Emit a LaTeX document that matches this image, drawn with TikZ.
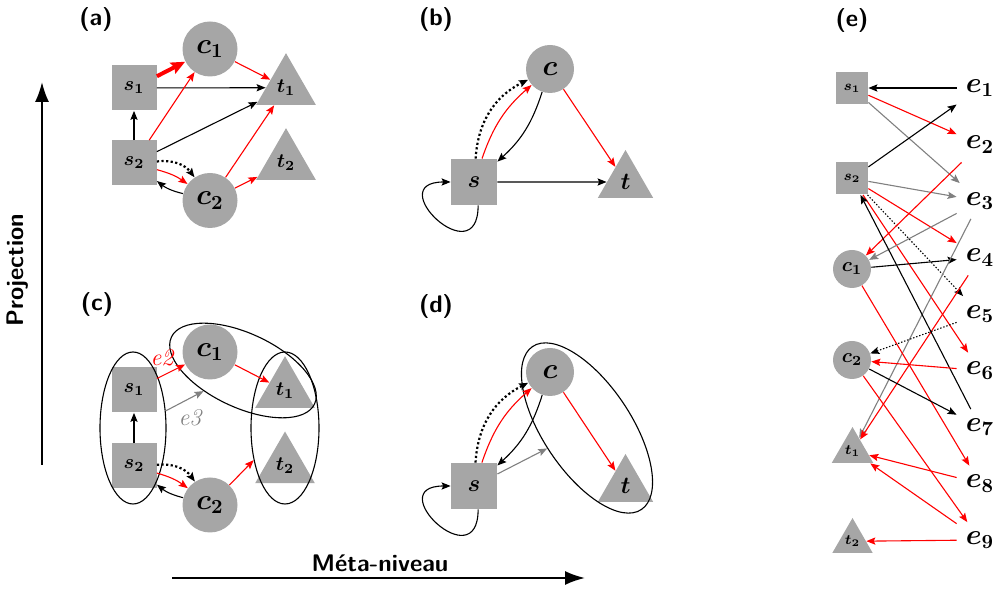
\documentclass[tikz,border=0pt]{standalone}
\usepackage{fontspec}
\usepackage{amsmath,bm}
\usetikzlibrary{arrows.meta,shapes.geometric}
\definecolor{nodegray}{RGB}{166,166,166}
\begin{document}
\begin{tikzpicture}[x=0.5pt,y=0.5pt,
  sq/.style={rectangle, fill=nodegray, inner sep=0pt, minimum size=22.5pt},
  ci/.style={circle, fill=nodegray, inner sep=0pt, minimum size=27.5pt, font=\Large},
  tri/.style={regular polygon, regular polygon sides=3, fill=nodegray, inner sep=0pt, minimum size=34.5pt},
  ell/.style={ellipse, draw, line width=0.55pt, inner sep=0pt},
  arr/.style={-{Stealth[length=4.5pt,width=3.6pt,inset=0.8pt]}, line width=0.55pt},
  rarr/.style={arr, red},
  garr/.style={arr, gray},
  darr/.style={arr, line width=1.1pt, dash pattern=on 1.1pt off 1.2pt},
  darre/.style={arr, dash pattern=on 0.7pt off 0.9pt},
  thickred/.style={-{Stealth[length=7pt,width=6pt,inset=1pt]}, red, line width=2pt},
  bigarr/.style={-{Latex[length=10pt,width=7pt]}, line width=1pt},
  plab/.style={font={\fontsize{12}{14}\selectfont\sffamily\bfseries}},
  axlab/.style={font={\fontsize{12}{14}\selectfont\sffamily\bfseries}},
  es/.style={rectangle, fill=nodegray, inner sep=0pt, minimum size=16pt, font=\scriptsize},
  ec/.style={circle, fill=nodegray, inner sep=0pt, minimum size=19pt, font=\normalsize},
  et/.style={tri, minimum size=24pt, font=\scriptsize},
  elab/.style={rectangle, inner sep=0pt, minimum width=23pt, minimum height=17.5pt, font=\Large}
]
\useasboundingbox (0,0) rectangle (995,593);

% axes
\coordinate (pb) at (42,128);
\coordinate (pt) at (42,511);
\draw[bigarr] (pb) -- (pt);
\node[axlab, rotate=90] (proj) at (18,323) {Projection};
\coordinate (ml) at (172,15);
\coordinate (mr) at (585,15);
\draw[bigarr] (ml) -- (mr);
\node[axlab] (meta) at (380,30) {Méta-niveau};

% panel labels
\node[plab] (la) at (96,573) {(a)};
\node[plab] (lb) at (436,573) {(b)};
\node[plab] (lc) at (97,288) {(c)};
\node[plab] (ld) at (436,286) {(d)};
\node[plab] (le) at (852,572) {(e)};

% ---------------- (a)
\node[sq] (a-s1) at (134,505) {$\bm{s_1}$};
\node[ci] (a-c1) at (210,544) {$\bm{c_1}$};
\node[tri] (a-t1) at (286,505.3) {$\bm{t_1}$};
\node[sq] (a-s2) at (134,430) {$\bm{s_2}$};
\node[tri] (a-t2) at (286,430.3) {$\bm{t_2}$};
\node[ci] (a-c2) at (210,392.5) {$\bm{c_2}$};
\draw[thickred] (a-s1) -- (a-c1);
\draw[arr] (a-s1) -- (a-t1);
\draw[arr] (a-s2) -- (a-s1);
\draw[rarr] (a-s2) -- (a-c1);
\draw[arr] (a-s2) -- (a-t1);
\draw[darr] (a-s2) to[bend left=30] (a-c2);
\draw[rarr] (a-s2) to[bend left=10] (a-c2);
\draw[arr] (a-c2) to[bend left=12] (a-s2);
\draw[rarr] (a-c1) -- (a-t1);
\draw[rarr] (a-c2) -- (a-t1);
\draw[rarr] (a-c2) -- (a-t2);

% ---------------- (b)
\node[ci, minimum size=24pt] (b-c) at (550,524) {$\bm{c}$};
\node[sq, minimum size=23pt, font=\large] (b-s) at (474,411) {$\bm{s}$};
\node[tri, minimum size=32pt, font=\large] (b-t) at (625.5,411) {$\bm{t}$};
\draw[arr] (b-s) -- (b-t);
\draw[rarr] (b-c) -- (b-t);
\draw[darr] (b-s) to[bend left=30] (b-c);
\draw[rarr] (b-s) to[bend left=15] (b-c);
\draw[arr] (b-c) to[bend left=15] (b-s);
\draw[arr] (b-s.-80) .. controls +(0,-70) and +(-70,0) .. (b-s.west);

% ---------------- (c)
\node[sq] (c-s1) at (134,203) {$\bm{s_1}$};
\node[ci] (c-c1) at (210,241) {$\bm{c_1}$};
\node[tri] (c-t1) at (285,202.3) {$\bm{t_1}$};
\node[sq] (c-s2) at (134,127) {$\bm{s_2}$};
\node[tri] (c-t2) at (285,127) {$\bm{t_2}$};
\node[ci] (c-c2) at (210,88) {$\bm{c_2}$};
\node[ell, minimum width=33pt, minimum height=76pt] (c-L) at (133,165) {};
\node[ell, minimum width=34pt, minimum height=76pt] (c-R) at (285,165) {};
\node[ell, minimum width=79pt, minimum height=37pt, rotate=-25] (c-C) at (243,222.5) {};
\draw[rarr] (c-s1) -- (c-c1);
\node[red, font=\large\itshape] (c-e2) at (162,235) {e2};
\draw[garr] (c-L) -- (c-C);
\node[gray, font=\large\itshape] (c-e3) at (190,175) {e3};
\draw[arr] (c-s2) -- (c-s1);
\draw[darr] (c-s2) to[bend left=30] (c-c2);
\draw[rarr] (c-s2) to[bend left=10] (c-c2);
\draw[arr] (c-c2) to[bend left=12] (c-s2);
\draw[rarr] (c-c1) -- (c-t1);
\draw[rarr] (c-c2) -- (c-R);

% ---------------- (d)
\node[ci, minimum size=24pt] (d-c) at (550,221) {$\bm{c}$};
\node[sq, minimum size=23pt, font=\large] (d-s) at (474,107) {$\bm{s}$};
\node[tri, minimum size=32pt, font=\large] (d-t) at (625.5,107) {$\bm{t}$};
\node[ell, minimum width=98pt, minimum height=44pt, rotate=-56.3] (d-E) at (587,165) {};
\draw[rarr] (d-c) -- (d-t);
\draw[darr] (d-s) to[bend left=30] (d-c);
\draw[rarr] (d-s) to[bend left=15] (d-c);
\draw[arr] (d-c) to[bend left=15] (d-s);
\draw[arr] (d-s.-80) .. controls +(0,-70) and +(-70,0) .. (d-s.west);
\draw[garr] (d-s) -- (d-E);

% ---------------- (e)
\node[es] (es1) at (852,505) {$\bm{s_1}$};
\node[es] (es2) at (852,414.5) {$\bm{s_2}$};
\node[ec] (ec1) at (852,324) {$\bm{c_1}$};
\node[ec] (ec2) at (852,233) {$\bm{c_2}$};
\node[et] (et1) at (852.5,142) {$\bm{t_1}$};
\node[et, minimum size=23.3pt] (et2) at (852.5,51.7) {$\bm{t_2}$};
\node[elab] (e1) at (980,505) {$\bm{e_1}$};
\node[elab] (e2) at (980,448.5) {$\bm{e_2}$};
\node[elab] (e3) at (980,392) {$\bm{e_3}$};
\node[elab] (e4) at (980,335.5) {$\bm{e_4}$};
\node[elab] (e5) at (980,279) {$\bm{e_5}$};
\node[elab] (e6) at (980,222.5) {$\bm{e_6}$};
\node[elab] (e7) at (980,166) {$\bm{e_7}$};
\node[elab] (e8) at (980,109.5) {$\bm{e_8}$};
\node[elab] (e9) at (980,53) {$\bm{e_9}$};
\draw[arr] (e1) -- (es1);
\draw[rarr] (es1) -- (e2);
\draw[garr] (es1) -- (e3);
\draw[arr] (es2) -- (e1);
\draw[garr] (es2) -- (e3);
\draw[rarr] (es2) -- (e4);
\draw[darre] (es2) -- (e5);
\draw[rarr] (es2) -- (e6);
\draw[rarr] (e2) -- (ec1);
\draw[garr] (e3) -- (ec1);
\draw[arr] (ec1) -- (e4);
\draw[garr] (e3) -- (et1);
\draw[rarr] (e4) -- (et1);
\draw[rarr] (ec1) -- (e8);
\draw[arr] (e7) -- (es2);
\draw[darre] (e5) -- (ec2);
\draw[rarr] (e6) -- (ec2);
\draw[arr] (ec2) -- (e7);
\draw[rarr] (ec2) -- (e9);
\draw[rarr] (e8) -- (et1);
\draw[rarr] (e9) -- (et1);
\draw[rarr] (e9) -- (et2);
\end{tikzpicture}
\end{document}
